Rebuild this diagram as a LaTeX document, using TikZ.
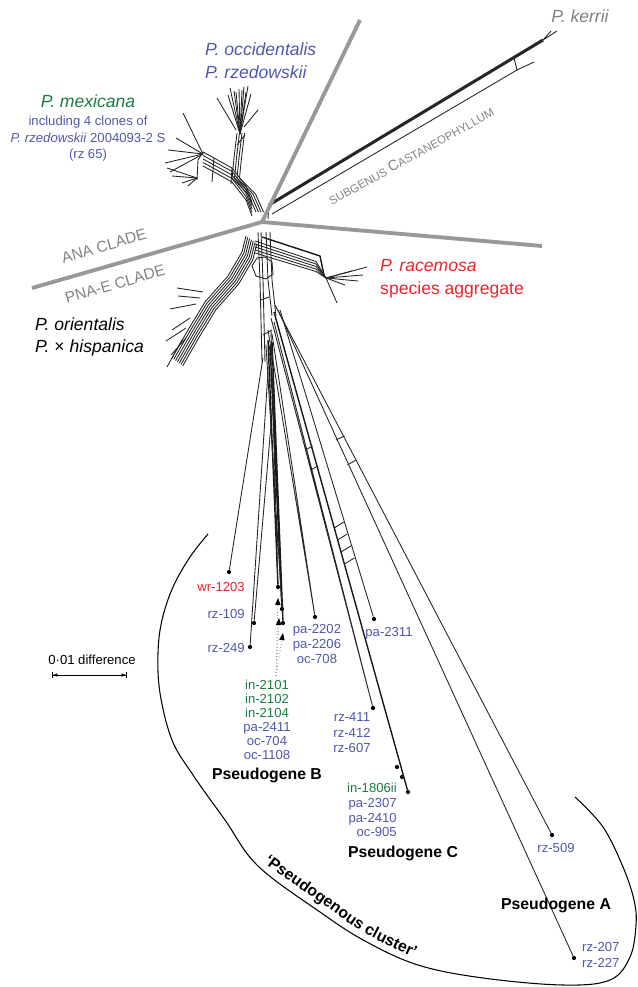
\documentclass[tikz,border=0pt]{standalone}
\usepackage{fontspec}
\setmainfont{Liberation Sans}
\usepackage{xcolor}
\usepackage{tikz}
\usetikzlibrary{arrows.meta, positioning, decorations.text}
\definecolor{labBlue}{RGB}{80,88,172}
\definecolor{labGreen}{RGB}{25,125,65}
\definecolor{labRed}{RGB}{237,36,44}
\definecolor{cladeGray}{RGB}{130,130,130}
\definecolor{cladeLine}{RGB}{152,152,152}

\begin{document}
\begin{tikzpicture}[
  x=0.3mm, y=-0.3mm,
  net/.style={line width=0.75pt, black!85},
  heavy/.style={line width=1.2pt, black!90},
  clade/.style={line width=3.3pt, cladeLine},
  tip/.style={circle, fill=black, inner sep=0pt, minimum size=3.6pt},
  small/.style={font=\fontsize{11.2}{13.2}\selectfont, inner sep=0pt, align=center},
  species/.style={font=\itshape\fontsize{15}{19.5}\selectfont, inner sep=0pt, align=left},
  cladeText/.style={font=\fontsize{13.2}{15}\selectfont, text=cladeGray, inner sep=0pt, rotate=16},
  group/.style={font=\bfseries\fontsize{13.5}{15}\selectfont, inner sep=0pt},
  pointer/.style={dotted, line width=0.7pt, black!45, -{Triangle[black, length=6pt, width=4.5pt]}}
]
\useasboundingbox (0,0) rectangle (637,987);
\draw[net, line width=2.6pt] (269,205) -- (543,40);
\draw[net] (272,214) -- (517,70) -- (534,62);
\draw[net] (517,70) -- (514,58);
\draw[net] (543,40) -- (557,31) (543,40) -- (551,31) (268,219) -- (269,205);
\foreach \i in {0,...,3}
  \draw[net, shift={(\i*2.5,0)}] (237,133) -- (234,158) -- (232,178) -- (248,194) -- (256,212);
\foreach \x/\y in {228/95,230/88,234/91,236/92,239/89,242/90,244/87,246/92,248/86,251/94}
  \draw[net] (240,134) -- (\x,\y);
\draw[net] (236,130) -- (217,98) (244,127) -- (258,110) (237,145) -- (245,135);
\foreach \i in {0,...,4}
  \draw[net, shift={(0,\i*3.5)}] (203,152) -- (214,158) -- (232,168) -- (246,186) -- (252,202);
\draw[net] (203,152) -- (198,160) -- (197,180) (214,158) -- (212,182) (232,168) -- (231,184);
\foreach \x/\y in {183/113,176/138,168/150,165/163,170/172}
  \draw[net] (203,154) -- (\x,\y);
\foreach \x/\y in {167/168,172/176,182/183,188/186}
  \draw[net] (197,178) -- (\x,\y);
\foreach \i in {0,...,6}
  \draw[net, shift={(\i*1.8,\i*1.3)}] (246,236) -- (242,252) -- (228,276) -- (205,302) -- (188,330) -- (172,358);
\foreach \a/\b/\x/\y in {203/292/177/288, 200/298/178/296, 196/304/170/309, 190/318/172/330, 186/328/166/341, 182/340/167/367, 186/338/171/355}
  \draw[net] (\a,\b) -- (\x,\y);
\draw[heavy] (262,237) -- (320,256) -- (324,275);
\foreach \i in {1,...,5}
  \draw[net] (255,{238+\i*3}) -- (316,{259+\i*2.5}) -- (326,278);
\foreach \x/\y in {367/267,363/275,352/271,358/281,345/285,337/303}
  \draw[net] (326,278) -- (\x,\y);
\foreach \x in {258,261}
  \draw[net] (\x,232) -- ({\x+2},280) -- ({\x+4},362);
\foreach \x in {266,270}
  \draw[net] (\x,232) -- ({\x+2},280) -- ({\x+6},316);
\draw[net] (257,258) -- (252,266) -- (256,276) -- (266,279) -- (273,274) -- (272,262) -- (265,257) -- cycle;
\draw[net] (261,300) -- (269,297) (263,335) -- (272,330);
\node[tip] (wr1203) at (229,572) {};
\node[tip] (rz109) at (254,623) {};
\node[tip] (rz249) at (250,647) {};
\node[tip] (pgB1) at (278,587) {};
\node[tip] (pgB2) at (282,609) {};
\node[tip] (pgB3) at (283,623) {};
\node[tip] (pa2202) at (315,617) {};
\node[tip] (pa2311) at (374,619) {};
\node[tip] (rz411) at (373,708) {};
\node[tip] (pgC1) at (397,767) {};
\node[tip] (pgC2) at (402,777) {};
\node[tip] (pgC3) at (408,792) {};
\node[tip] (rz509) at (552,835) {};
\node[tip] (rz207) at (574,958) {};
\draw[net] (263,358) -- (wr1203);
\draw[net] (274,390) -- (rz109);
\draw[net] (268,372) -- (rz249);
\draw[heavy] (268,340) -- (pgB1) (270,345) -- (pgB2) (272,342) -- (pgB3);
\draw[net] (266,345) -- (pgB2) (271,330) -- (pgB1);
\draw[net] (268,330) -- (pa2202) (272,334) -- (pa2202);
\draw[net] (280,310) -- (pa2311);
\draw[net] (271,318) -- (rz411) (274,322) -- (rz411);
\draw[heavy] (274,312) -- (pgC3);
\draw[net] (278,310) -- (rz207);
\draw[net] (275,305) -- (rz509);
\draw[net] (305.5,450) -- (312.5,446) (310.7,470) -- (318,466);
\draw[net] (334.3,528) -- (343.6,522) (337.6,540) -- (347.2,534) (341,552) -- (350.8,546) (344.3,564) -- (354.4,558);
\draw[net] (336,440) -- (344.5,436) (347.4,465) -- (356,460);
\coordinate (inSrc) at (276,676);
\coordinate (tri1) at (278,598);
\coordinate (tri2) at (279,618);
\coordinate (tri3) at (283,633);
\foreach \t in {tri1,tri2,tri3}
  \draw[pointer] (inSrc) -- (\t);
\coordinate (hub) at (262,222);
\draw[clade] (360,20) -- (hub);
\draw[clade] (32,288) -- (hub) -- (542,246);
\node[species, text=cladeGray] (kerrii) at (580,16) {P. kerrii};
\node[species, text=labBlue, anchor=west] (occ) at (205,61) {P. occidentalis\\P. rzedowskii};
\node[species, text=labGreen] (mex) at (88,101) {P. mexicana};
\node[small, font=\fontsize{11.2}{14.1}\selectfont, text=labBlue] (mexNote) at (88,139) {including 4 clones of\\\textit{P. rzedowskii} 2004093-2 S\\(rz 65)};
\node[cladeText] (ana) at (104,246) {ANA CLADE};
\node[cladeText] (pnae) at (115,284) {PNA-E CLADE};
\node[font=\fontsize{9.8}{11}\selectfont, text=cladeGray, rotate=29, inner sep=0pt] (subg) at (411,156) {SUBGENUS {\fontsize{12.5}{14}\selectfont C}ASTANEOPHYLLUM};
\node[species, anchor=west] (orient) at (35,337) {P. orientalis\\P. \textup{×} hispanica};
\node[species, text=labRed, anchor=west] (racem) at (380,279) {P. racemosa\\\textup{species aggregate}};
\node[small, text=labRed, anchor=east] (lwr1203) at (245,587) {wr-1203};
\node[small, text=labBlue, anchor=east] (lrz109) at (245,614) {rz-109};
\node[small, text=labBlue, anchor=east] (lrz249) at (245,648) {rz-249};
\node[small, font=\fontsize{11.2}{12}\selectfont] (lin2101) at (267,720) {\textcolor{labGreen}{in-2101}\\\textcolor{labGreen}{in-2102}\\\textcolor{labGreen}{in-2104}\\\textcolor{labBlue}{pa-2411}\\\textcolor{labBlue}{oc-704}\\\textcolor{labBlue}{oc-1108}};
\node[small, text=labBlue] (lpa2202) at (317,644) {pa-2202\\pa-2206\\oc-708};
\node[small, text=labBlue] (lpa2311) at (389,633) {pa-2311};
\node[small, text=labBlue] (lrz411) at (352,733) {rz-411\\rz-412\\rz-607};
\node[group] (pseudoB) at (267,775) {Pseudogene B};
\node[small, font=\fontsize{11.2}{12.6}\selectfont, align=right, anchor=east] (lin1806) at (397,810) {\textcolor{labGreen}{in-1806ii}\\\textcolor{labBlue}{pa-2307}\\\textcolor{labBlue}{pa-2410}\\\textcolor{labBlue}{oc-905}};
\node[group] (pseudoC) at (403,853) {Pseudogene C};
\node[small, text=labBlue] (lrz509) at (556,848) {rz-509};
\node[group] (pseudoA) at (556,905) {Pseudogene A};
\node[small, font=\fontsize{11.2}{13.7}\selectfont, text=labBlue, align=left, anchor=west] (lrz207) at (582,955) {rz-207\\rz-227};
\node[small] (scale) at (92,660) {0·01 difference};
\coordinate (barL) at (52,675);
\coordinate (barR) at (127,675);
\draw[line width=0.6pt, {Bar[width=5pt]Latex[length=4pt,width=3pt]}-{Latex[length=4pt,width=3pt]Bar[width=5pt]}] (barL) -- (barR);
\draw[line width=0.9pt] plot[smooth, tension=0.6] coordinates {(208,534) (190,557) (173,587) (162,620) (158,653) (160,693) (172,740) (193,775) (225,820) (258,866) (320,912) (365,941) (418,965) (483,978) (563,985) (610,980) (630,957) (636,925) (634,900) (623,867) (603,827) (575,797)};
\path[decorate, decoration={text along path, text align=center, text={|\bfseries\fontsize{13.5}{15}\selectfont|‘Pseudogenous cluster’}}] plot[smooth] coordinates {(234,832) (263,862) (325,906) (366,934) (420,960) (455,970)};
\end{tikzpicture}
\end{document}
